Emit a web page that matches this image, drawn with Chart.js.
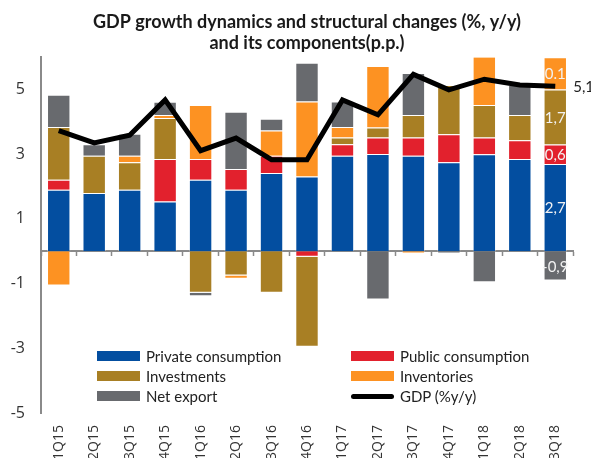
<!DOCTYPE html>
<html>
<head>
<meta charset="utf-8">
<script src="https://cdn.jsdelivr.net/npm/chart.js@4"></script>
<style>
  body { margin: 0; background: #fff; overflow: hidden; }
  #wrap { position: relative; width: 591px; height: 475px; }
  #legend { position: absolute; left: 97px; top: 346px; display: grid; grid-template-columns: 254px 200px; row-gap: 0; font: 15px Lato, sans-serif; color: #222; }
  .item { display: flex; align-items: center; height: 20px; white-space: nowrap; }
  .sw { width: 43px; height: 10px; margin-right: 6px; }
  .ln { width: 43px; height: 5px; border-radius: 3px; margin-right: 6px; background: #000; }
</style>
</head>
<body>
<div id="wrap">
  <canvas id="gdpChart" width="591" height="475"></canvas>
  <div id="legend"></div>
</div>
<script>
// Dados (p.p. e % a/a)
const quarters = ['1Q15', '2Q15', '3Q15', '4Q15', '1Q16', '2Q16', '3Q16', '4Q16', '1Q17', '2Q17', '3Q17', '4Q17', '1Q18', '2Q18', '3Q18'];
const privateCons = [1.90, 1.80, 1.90, 1.54, 2.21, 1.90, 2.42, 2.31, 2.95, 3.01, 2.95, 2.75, 3.00, 2.85, 2.70];
const publicCons = [0.31, 0, 0, 1.31, 0.64, 0.64, 0.53, -0.17, 0.36, 0.51, 0.57, 0.87, 0.52, 0.58, 0.60];
const investments = [1.63, 1.15, 0.85, 1.27, -1.28, -0.75, -1.28, -2.78, 0.21, 0.31, 0.69, 1.52, 1.00, 0.78, 1.70];
const inventories = [-1.06, 0, 0.20, 0.09, 1.67, -0.10, 0.78, 2.32, 0.32, 1.90, -0.07, 0, 1.50, 0, 1.00];
const netExport = [1.00, 0.36, 0.68, 0.41, -0.11, 1.77, 0.37, 1.20, 0.79, -1.49, 1.30, -0.07, -0.96, 0.93, -0.90];
const gdp = [3.73, 3.35, 3.59, 4.68, 3.11, 3.50, 2.83, 2.83, 4.68, 4.22, 5.47, 4.99, 5.32, 5.14, 5.10];
const yTicks = [-5, -3, -1, 1, 3, 5];
const lastLabels = ['2,7', '0,6', '1,7', '0.1', '-0,9'];
const gdpLastLabel = '5,1';

const colors = {
    private: '#034ea0',
    public: '#e2212d',
    invest: '#a87f24',
    invent: '#fd9222',
    net: '#686a6e'
};

function barSet(label, data, color) {
    return {
        type: 'bar',
        label: label,
        data: data,
        backgroundColor: color,
        borderColor: 'rgba(255,255,255,0.35)',
        borderWidth: 1,
        barPercentage: 0.66,
        categoryPercentage: 1,
        order: 1
    };
}

// Rótulos da última barra e do PIB
const labelPlugin = {
    id: 'lastLabels',
    afterDatasetsDraw(chart) {
        const ctx = chart.ctx;
        ctx.save();
        ctx.font = '15px Lato, sans-serif';
        ctx.textBaseline = 'middle';
        ctx.textAlign = 'center';
        ctx.fillStyle = '#f2f2f2';
        for (let i = 0; i < 5; i++) {
            const el = chart.getDatasetMeta(i).data[quarters.length - 1];
            const yTop = Math.max(el.y, chart.chartArea.top);
            ctx.fillText(lastLabels[i], el.x, (yTop + el.base) / 2 + 1);
        }
        const pt = chart.getDatasetMeta(5).data[quarters.length - 1];
        ctx.textAlign = 'left';
        ctx.fillStyle = '#222';
        ctx.fillText(gdpLastLabel, pt.x + 18, pt.y + 1);
        ctx.restore();
    }
};

const chart = new Chart(document.getElementById('gdpChart'), {
    data: {
        labels: quarters,
        datasets: [
            barSet('Private consumption', privateCons, colors.private),
            barSet('Public consumption', publicCons, colors.public),
            barSet('Investments', investments, colors.invest),
            barSet('Inventories', inventories, colors.invent),
            barSet('Net export', netExport, colors.net),
            {
                type: 'line',
                label: 'GDP (%y/y)',
                data: gdp,
                borderColor: '#000',
                borderWidth: 5,
                pointRadius: 0,
                tension: 0,
                order: 0
            }
        ]
    },
    options: {
        responsive: false,
        animation: false,
        devicePixelRatio: 1,
        layout: { padding: { left: 0, right: 18, top: 0, bottom: 0 } },
        plugins: {
            legend: { display: false },
            tooltip: { enabled: false },
            title: {
                display: true,
                fullSize: false,
                text: ['GDP growth dynamics and structural changes (%, y/y)', 'and its components(p.p.)'],
                color: '#1a1a1a',
                font: { family: 'Lato, sans-serif', size: 18, weight: 'bold', lineHeight: 1.2 },
                padding: { top: 11, bottom: 3 }
            }
        },
        scales: {
            x: {
                type: 'category',
                stacked: true,
                offset: true,
                position: { y: 0 },
                grid: { offset: true, drawOnChartArea: false, drawTicks: true, tickLength: 4, color: '#8a8a8a', tickWidth: 1.5 },
                border: { color: '#8a8a8a', width: 2 },
                ticks: { display: false }
            },
            x2: {
                type: 'category',
                position: 'bottom',
                offset: true,
                labels: quarters,
                grid: { display: false, drawTicks: false },
                border: { display: false },
                ticks: {
                    minRotation: 90, maxRotation: 90, autoSkip: false, padding: 12,
                    color: '#333', font: { family: '"Open Sans", sans-serif', size: 14 }
                },
                afterFit(scale) { scale.height = 62; }
            },
            y: {
                stacked: true,
                min: -5,
                max: 6,
                afterBuildTicks(scale) { scale.ticks = yTicks.map(v => ({ value: v })); },
                grid: { display: false, drawTicks: false },
                border: { color: '#8a8a8a', width: 2 },
                ticks: { padding: 16, color: '#333', font: { family: '"Open Sans", sans-serif', size: 16 } },
                afterFit(scale) { scale.width = 41; }
            }
        }
    },
    plugins: [labelPlugin]
});

// Legenda em HTML (duas colunas)
const legend = document.getElementById('legend');
chart.data.datasets.forEach(ds => {
    const item = document.createElement('div');
    item.className = 'item';
    const mark = ds.type === 'line'
        ? '<span class="ln"></span>'
        : `<span class="sw" style="background:${ds.backgroundColor}"></span>`;
    item.innerHTML = `${mark}<span>${ds.label}</span>`;
    legend.appendChild(item);
});
</script>
</body>
</html>
